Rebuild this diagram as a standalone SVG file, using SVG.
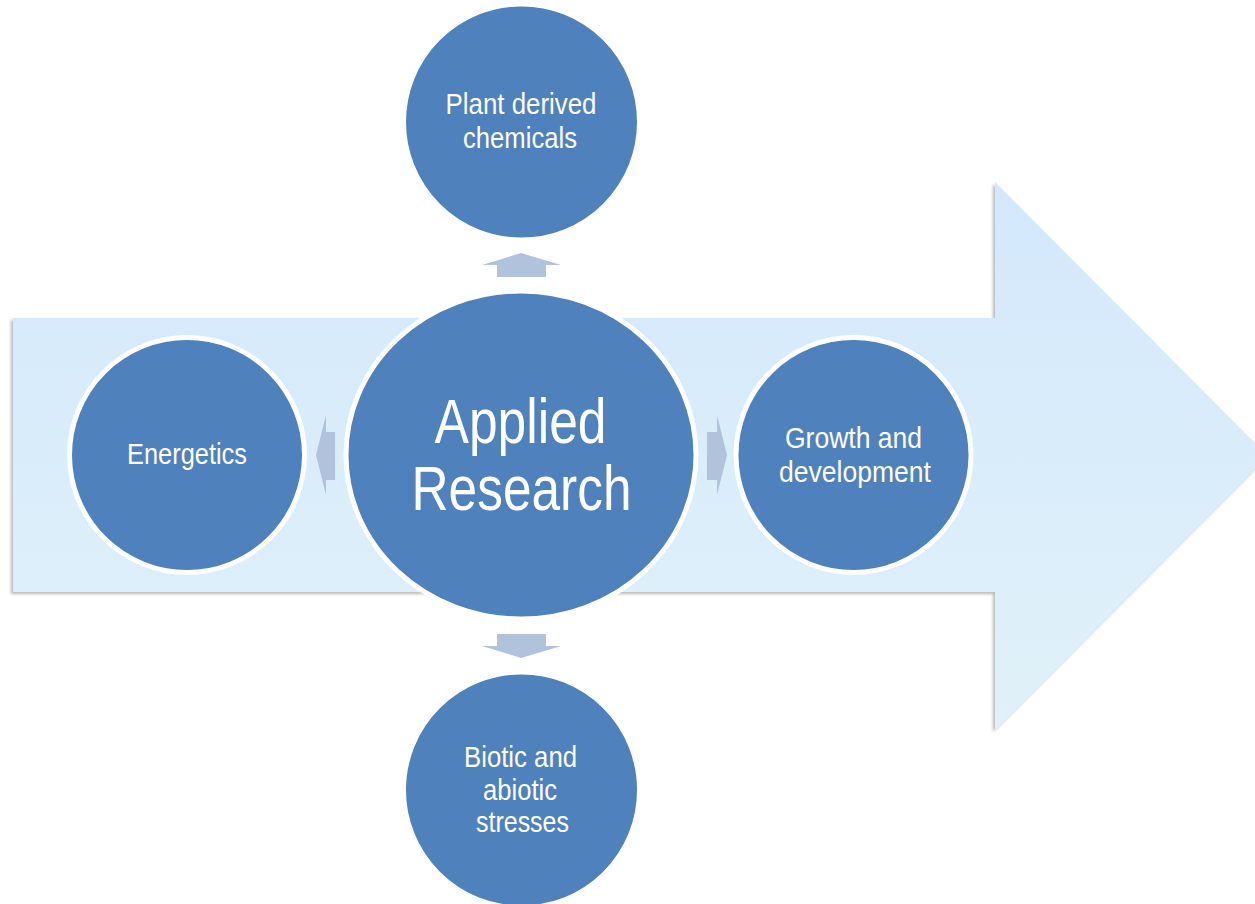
<svg xmlns="http://www.w3.org/2000/svg" width="1255" height="904" viewBox="0 0 1255 904">
<defs>
<linearGradient id="bg" x1="0" y1="0" x2="0" y2="1">
<stop offset="0" stop-color="#d3e8fc"/>
<stop offset="1" stop-color="#e0f1f8"/>
</linearGradient>
<filter id="sh" x="-5%" y="-5%" width="110%" height="110%">
<feDropShadow dx="-2" dy="2" stdDeviation="1.5" flood-color="#808080" flood-opacity="0.55"/>
</filter>
<style>
.node{fill:#4f81bd;stroke:#ffffff;stroke-width:5}
.conn{fill:#b1c2dd}
.t{font-family:"Liberation Sans",Arial,sans-serif;fill:#ffffff;text-anchor:middle}
.s{font-size:29px}
.b{font-size:63px}
</style>
</defs>
<rect width="1255" height="904" fill="#ffffff"/>
<g id="background-arrow">
<path d="M13,318 H995 V182 L1268,456 L995,730 V592 H13 Z" fill="url(#bg)" filter="url(#sh)"/>
</g>
<g id="connectors">
<path class="conn" d="M521,253 L561,265 H546 V277 H497 V265 H482 Z"/>
<path class="conn" d="M521,658 L561,646 H546 V634 H497 V646 H482 Z"/>
<path class="conn" d="M316,455 L326,415 V432 H335 V480 H326 V495 Z"/>
<path class="conn" d="M727,455 L717,415 V432 H707 V480 H717 V495 Z"/>
</g>
<g id="node-plant">
<circle class="node" cx="521.5" cy="122" r="118"/>
<text class="t s" x="521" y="114" textLength="151" lengthAdjust="spacingAndGlyphs">Plant derived</text>
<text class="t s" x="520" y="148" textLength="114" lengthAdjust="spacingAndGlyphs">chemicals</text>
</g>
<g id="node-biotic">
<circle class="node" cx="521.5" cy="790" r="118"/>
<text class="t s" x="520.5" y="767" textLength="113" lengthAdjust="spacingAndGlyphs">Biotic and</text>
<text class="t s" x="520" y="800" textLength="74" lengthAdjust="spacingAndGlyphs">abiotic</text>
<text class="t s" x="522.5" y="832" textLength="93" lengthAdjust="spacingAndGlyphs">stresses</text>
</g>
<g id="node-energetics">
<circle class="node" cx="187" cy="455" r="117.5"/>
<text class="t s" x="187" y="464" textLength="120" lengthAdjust="spacingAndGlyphs">Energetics</text>
</g>
<g id="node-growth">
<circle class="node" cx="853.5" cy="455" r="117.5"/>
<text class="t s" x="853.5" y="448" textLength="137" lengthAdjust="spacingAndGlyphs">Growth and</text>
<text class="t s" x="855" y="482" textLength="152" lengthAdjust="spacingAndGlyphs">development</text>
</g>
<g id="node-applied">
<ellipse class="node" cx="521" cy="455" rx="175" ry="164"/>
<text class="t b" x="520.5" y="443" textLength="172" lengthAdjust="spacingAndGlyphs">Applied</text>
<text class="t b" x="521.5" y="510" textLength="220" lengthAdjust="spacingAndGlyphs">Research</text>
</g>
</svg>
